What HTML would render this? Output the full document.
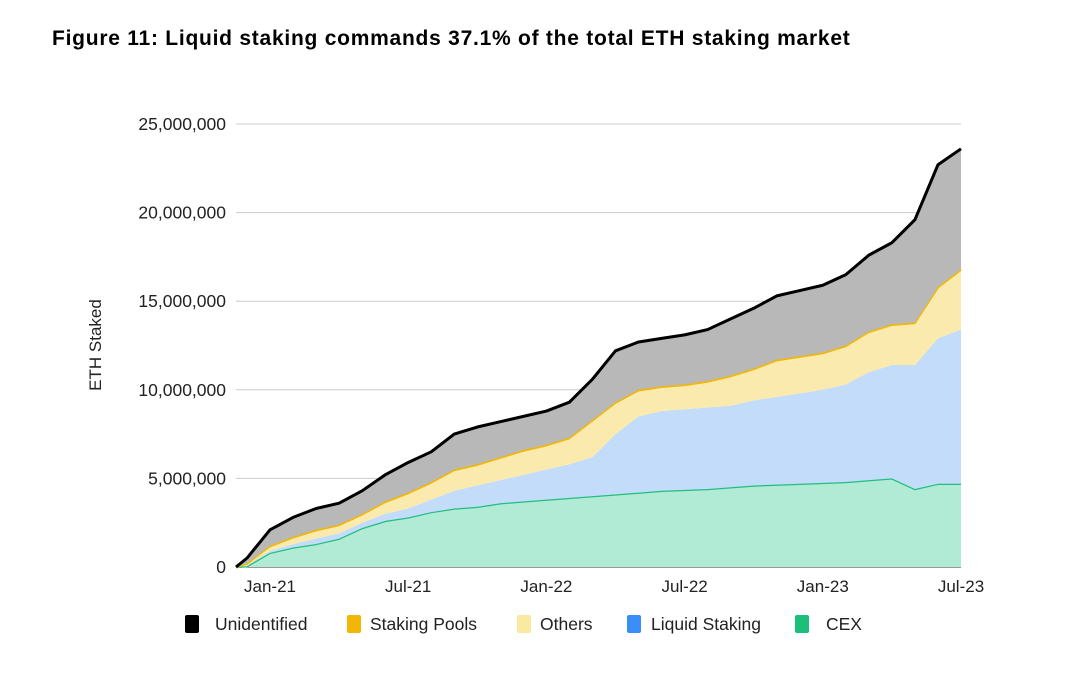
<!DOCTYPE html>
<html><head><meta charset="utf-8"><style>
body{margin:0;background:#fff;width:1080px;height:675px;overflow:hidden;font-family:"Liberation Sans",sans-serif}
#title{position:absolute;left:52px;top:27px;font-size:21px;letter-spacing:0.75px;font-weight:bold;color:#000}
</style></head><body>
<div id="title">Figure 11: Liquid staking commands 37.1% of the total ETH staking market</div>
<svg id="chart" width="1080" height="675" style="position:absolute;left:0;top:0"></svg>
<script>
const months = ["Dec-20","Jan-21","Feb-21","Mar-21","Apr-21","May-21","Jun-21","Jul-21","Aug-21","Sep-21","Oct-21","Nov-21","Dec-21","Jan-22","Feb-22","Mar-22","Apr-22","May-22","Jun-22","Jul-22","Aug-22","Sep-22","Oct-22","Nov-22","Dec-22","Jan-23","Feb-23","Mar-23","Apr-23","May-23","Jun-23","Jul-23"];
const cex = [0.05,0.8,1.1,1.3,1.6,2.2,2.6,2.8,3.1,3.3,3.4,3.6,3.7,3.8,3.9,4.0,4.1,4.2,4.3,4.35,4.4,4.5,4.6,4.65,4.7,4.75,4.8,4.9,5.0,4.4,4.7,4.7];
const liquid = [0,0.1,0.2,0.3,0.3,0.3,0.4,0.5,0.7,1.0,1.2,1.3,1.5,1.7,1.9,2.2,3.4,4.3,4.5,4.55,4.6,4.6,4.8,4.95,5.1,5.25,5.5,6.1,6.4,7.0,8.2,8.7];
const others = [0.1,0.2,0.3,0.4,0.4,0.4,0.6,0.8,0.9,1.1,1.1,1.2,1.3,1.3,1.4,2.0,1.7,1.4,1.3,1.3,1.4,1.6,1.7,2.0,2.0,2.0,2.1,2.2,2.2,2.3,2.8,3.3];
const pools = [0.05,0.1,0.1,0.1,0.1,0.1,0.1,0.1,0.1,0.1,0.1,0.1,0.1,0.1,0.1,0.1,0.1,0.1,0.1,0.1,0.1,0.1,0.1,0.1,0.1,0.1,0.1,0.1,0.1,0.1,0.1,0.1];
const unidentified = [0.3,0.9,1.1,1.2,1.2,1.3,1.5,1.7,1.7,2.0,2.1,2.0,1.9,1.9,2.0,2.3,2.9,2.7,2.7,2.8,2.9,3.2,3.4,3.6,3.7,3.8,4.0,4.3,4.6,5.8,6.9,6.8];
const yTicks = [0,5,10,15,20,25];
const yTickLabels = ["0","5,000,000","10,000,000","15,000,000","20,000,000","25,000,000"];
const xTickIdx = [1,7,13,19,25,31];
const xTickLabels = ["Jan-21","Jul-21","Jan-22","Jul-22","Jan-23","Jul-23"];

const svg=document.getElementById('chart');const NS='http://www.w3.org/2000/svg';
const XS=236,XA=270,X1=961,Y0=567,Y1=124,YMAX=25;
const x=i=>i<0?XS:XA+(X1-XA)*(i-1)/(months.length-2);
const y=v=>Y0-(Y0-Y1)*v/YMAX;
function mk(t,a){const e=document.createElementNS(NS,t);for(const k in a)e.setAttribute(k,a[k]);svg.appendChild(e);return e;}
yTicks.forEach((v,i)=>{
 const g=mk('line',{x1:XS,x2:X1,y1:y(v),y2:y(v),stroke:v===0?'#333':'#ccc','stroke-width':1});
 
 
 const t=mk('text',{x:226,y:y(v)+6,'text-anchor':'end','font-size':17.5,fill:'#222'});t.textContent=yTickLabels[i];
 
 
});
xTickIdx.forEach((idx,i)=>{
 const t=mk('text',{x:x(idx),y:592,'text-anchor':'middle','font-size':17,fill:'#222'});t.textContent=xTickLabels[i];
 
 
});
const yt=mk('text',{x:0,y:0,transform:'translate(101,345) rotate(-90)','text-anchor':'middle','font-size':17,fill:'#222'});yt.textContent='ETH Staked';


const series=[['cex',cex,'#b2ebd5','#1fbf7f'],['liquid-staking',liquid,'#c3dcfa','#9fc4f3'],['others',others,'#fbeaae','#f5dc86'],['staking-pools',pools,'#f2b705','#f2b705'],['unidentified',unidentified,'#b8b8b8','#000']];
let base=months.map(()=>0);
series.forEach(([n,vals,fill,line])=>{
 const top=base.map((b,i)=>b+vals[i]);
 const pts=[[XS,Y0]].concat(months.map((_,i)=>[x(i),y(top[i])]));
 let d='M'+pts.map(p=>p[0]+','+p[1]).join('L');
 for(let i=months.length-1;i>=0;i--)d+='L'+x(i)+','+y(base[i]);
 d+='L'+XS+','+Y0;
 const a=mk('path',{d:d+'Z',fill:fill,stroke:'none'});
 
 
 if(n==='cex'||n==='staking-pools'||n==='unidentified'){
  const l=mk('polyline',{points:pts.map(p=>p[0]+','+p[1]).join(' '),fill:'none',stroke:line,'stroke-width':n==='unidentified'?3:2.5,'stroke-linejoin':'round'});
  
  
 }
 base=top;
});
const legend=[['Unidentified','#000',185,215],['Staking Pools','#f2b705',347,370],['Others','#fbe9a0',517,540],['Liquid Staking','#3a8ef6',627,651],['CEX','#1cbf7a',795,826]];
legend.forEach(([lab,c,lx,tx])=>{
 const r=mk('rect',{x:lx,y:615,width:14,height:18,rx:2,fill:c});
 
 
 const t=mk('text',{x:tx,y:630,'font-size':17.5,fill:'#222'});t.textContent=lab;
 
 
});
</script>
</body></html>
